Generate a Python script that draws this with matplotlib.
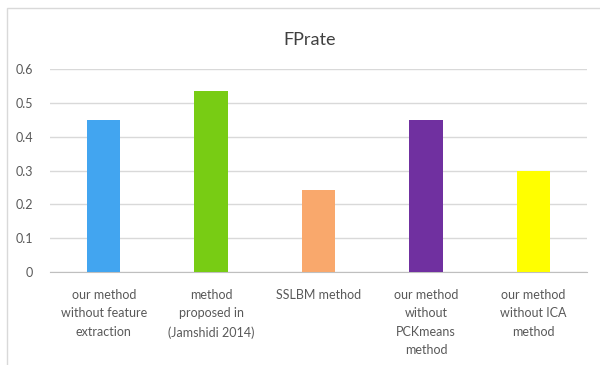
import matplotlib
matplotlib.use("Agg")
import matplotlib.pyplot as plt
from matplotlib.patches import Rectangle

# data
categories = [
    "our method\nwithout feature\nextraction",
    "method\nproposed in\n(Jamshidi 2014)",
    "SSLBM method",
    "our method\nwithout\nPCKmeans\nmethod",
    "our method\nwithout ICA\nmethod",
]
fprate = [0.45, 0.535, 0.242, 0.45, 0.30]
colors = ["#42A5F0", "#78CC14", "#F9A86C", "#7030A0", "#FFFF00"]
yticks = [0, 0.1, 0.2, 0.3, 0.4, 0.5, 0.6]
ytick_labels = ["0", "0.1", "0.2", "0.3", "0.4", "0.5", "0.6"]

plt.rcParams["font.family"] = ["Lato", "DejaVu Sans"]

fig = plt.figure(figsize=(6, 3.65), dpi=100)
ax = fig.add_axes([50 / 600, 1 - 272 / 365, 537 / 600, 203 / 365])

# chart frame (cut off at right and bottom like the screenshot)
fig.patches.append(Rectangle((7 / 600, -0.1), 1.1, 1 - 8 / 365 + 0.1,
                             transform=fig.transFigure, fill=False,
                             edgecolor="#D9D9D9", linewidth=1))

x = range(len(categories))
ax.bar(x, fprate, width=0.31, color=colors, zorder=3)

ax.set_xlim(-0.5, len(categories) - 0.5)
ax.set_ylim(0, 0.6)
ax.set_yticks(yticks)
ax.set_yticklabels(ytick_labels)
ax.yaxis.grid(True, color="#D9D9D9", linewidth=1, zorder=0)
ax.tick_params(axis="y", length=0, labelsize=9, labelcolor="#595959", pad=12)
ax.tick_params(axis="x", length=0)
ax.set_xticks(list(x))
ax.set_xticklabels(categories, fontsize=9, color="#595959", linespacing=1.65)
ax.tick_params(axis="x", pad=12)

for side in ["top", "right", "left"]:
    ax.spines[side].set_visible(False)
ax.spines["bottom"].set_color("#BFBFBF")

fig.text(310 / 600, 1 - 40 / 365, "FPrate", ha="center", va="center",
         fontsize=13, color="#404040")

fig.savefig("out.png", dpi=100)
